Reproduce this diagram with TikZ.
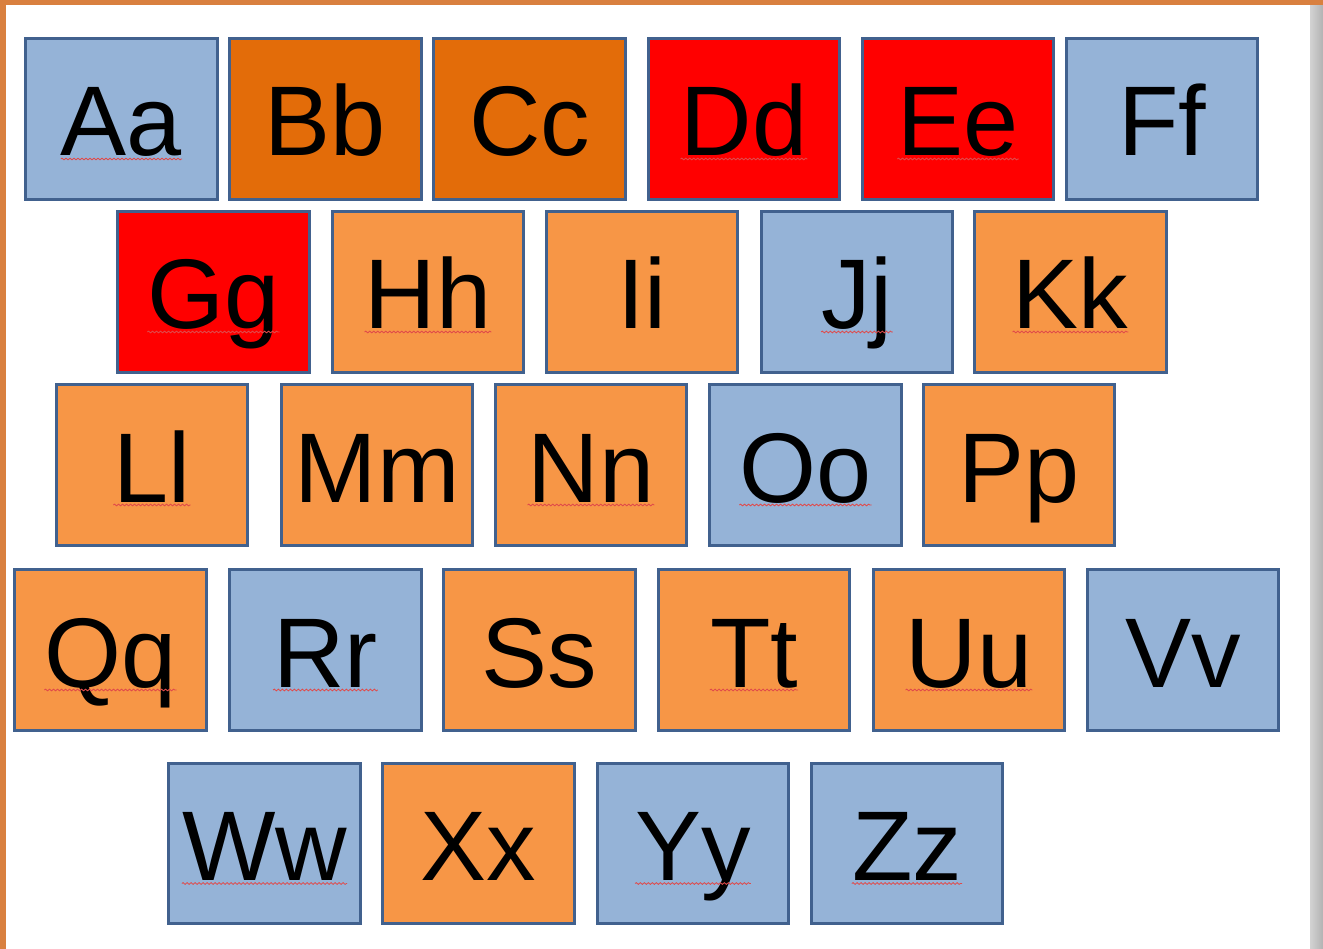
\documentclass[tikz,border=0pt]{standalone}
\usepackage{fontspec}
\setmainfont{Liberation Sans}
\usetikzlibrary{decorations.pathmorphing}
\definecolor{tileblue}{HTML}{95B3D7}
\definecolor{tiledark}{HTML}{E36C09}
\definecolor{tilered}{HTML}{FF0000}
\definecolor{tilelight}{HTML}{F79646}
\definecolor{tileedge}{HTML}{41618E}
\definecolor{woodorange}{HTML}{D9803F}
\definecolor{spellred}{HTML}{E04A4A}
\tikzstyle{tile}=[rectangle, draw=tileedge, line width=3pt, minimum width=191.5pt, minimum height=160.5pt, inner sep=0pt]
\tikzstyle{blue tile}=[tile, fill=tileblue]
\tikzstyle{dark tile}=[tile, fill=tiledark]
\tikzstyle{red tile}=[tile, fill=tilered]
\tikzstyle{light tile}=[tile, fill=tilelight]
\tikzstyle{word}=[inner sep=0pt, anchor=base, yshift=-37pt, font=\fontsize{99pt}{99pt}\selectfont]
\tikzstyle{squiggle}=[draw=spellred, line width=0.8pt, decorate, decoration={snake, amplitude=0.9pt, segment length=4pt}]

\begin{document}
\begin{tikzpicture}[x=1pt, y=-1pt]
\useasboundingbox (0,0) rectangle (1323,949);
\fill[white] (0,0) rectangle (1323,949);
\shade[left color=gray!35, right color=gray!60] (1310,0) rectangle (1323,949);
\fill[woodorange] (0,0) rectangle (6,949);
\fill[woodorange] (0,0) rectangle (1323,5);

% row 1
\node[blue tile]  (aa) at (121.5, 119) {};
\node[dark tile]  (bb) at (325.5, 119) {};
\node[dark tile]  (cc) at (529.5, 119) {};
\node[red tile]   (dd) at (744, 119) {};
\node[red tile]   (ee) at (958, 119) {};
\node[blue tile]  (ff) at (1162, 119) {};

% row 2
\node[red tile]   (gg) at (213.5, 292) {};
\node[light tile] (hh) at (428, 292) {};
\node[light tile] (ii) at (642, 292) {};
\node[blue tile]  (jj) at (857, 292) {};
\node[light tile] (kk) at (1070.5, 292) {};

% row 3
\node[light tile] (ll) at (152, 465) {};
\node[light tile] (mm) at (377, 465) {};
\node[light tile] (nn) at (591, 465) {};
\node[blue tile]  (oo) at (805.5, 465) {};
\node[light tile] (pp) at (1019, 465) {};

% row 4
\node[light tile] (qq) at (110.5, 650) {};
\node[blue tile]  (rr) at (325.5, 650) {};
\node[light tile] (ss) at (539.5, 650) {};
\node[light tile] (tt) at (754, 650) {};
\node[light tile] (uu) at (969, 650) {};
\node[blue tile]  (vv) at (1183, 650) {};

% row 5
\node[blue tile]  (ww) at (264.5, 843.5) {};
\node[light tile] (xx) at (478.5, 843.5) {};
\node[blue tile]  (yy) at (693, 843.5) {};
\node[blue tile]  (zz) at (907, 843.5) {};

% letters
\node[word] (aa text) at (aa.center) {Aa};
\node[word] (bb text) at (bb.center) {Bb};
\node[word] (cc text) at (cc.center) {Cc};
\node[word] (dd text) at (dd.center) {Dd};
\node[word] (ee text) at (ee.center) {Ee};
\node[word] (ff text) at (ff.center) {Ff};
\node[word] (gg text) at (gg.center) {Gg};
\node[word] (hh text) at (hh.center) {Hh};
\node[word] (ii text) at (ii.center) {Ii};
\node[word] (jj text) at (jj.center) {Jj};
\node[word] (kk text) at (kk.center) {Kk};
\node[word] (ll text) at (ll.center) {Ll};
\node[word] (mm text) at (mm.center) {Mm};
\node[word] (nn text) at (nn.center) {Nn};
\node[word] (oo text) at (oo.center) {Oo};
\node[word] (pp text) at (pp.center) {Pp};
\node[word] (qq text) at (qq.center) {Qq};
\node[word] (rr text) at (rr.center) {Rr};
\node[word] (ss text) at (ss.center) {Ss};
\node[word] (tt text) at (tt.center) {Tt};
\node[word] (uu text) at (uu.center) {Uu};
\node[word] (vv text) at (vv.center) {Vv};
\node[word] (ww text) at (ww.center) {Ww};
\node[word] (xx text) at (xx.center) {Xx};
\node[word] (yy text) at (yy.center) {Yy};
\node[word] (zz text) at (zz.center) {Zz};

% spelling marks
\draw[squiggle] ([yshift=-3pt]aa text.base west) -- ([yshift=-3pt]aa text.base east);
\draw[squiggle] ([yshift=-3pt]dd text.base west) -- ([yshift=-3pt]dd text.base east);
\draw[squiggle] ([yshift=-3pt]ee text.base west) -- ([yshift=-3pt]ee text.base east);
\draw[squiggle] ([yshift=-3pt]gg text.base west) -- ([yshift=-3pt]gg text.base east);
\draw[squiggle] ([yshift=-3pt]hh text.base west) -- ([yshift=-3pt]hh text.base east);
\draw[squiggle] ([yshift=-3pt]jj text.base west) -- ([yshift=-3pt]jj text.base east);
\draw[squiggle] ([yshift=-3pt]kk text.base west) -- ([yshift=-3pt]kk text.base east);
\draw[squiggle] ([yshift=-3pt]ll text.base west) -- ([yshift=-3pt]ll text.base east);
\draw[squiggle] ([yshift=-3pt]nn text.base west) -- ([yshift=-3pt]nn text.base east);
\draw[squiggle] ([yshift=-3pt]oo text.base west) -- ([yshift=-3pt]oo text.base east);
\draw[squiggle] ([yshift=-3pt]qq text.base west) -- ([yshift=-3pt]qq text.base east);
\draw[squiggle] ([yshift=-3pt]rr text.base west) -- ([yshift=-3pt]rr text.base east);
\draw[squiggle] ([yshift=-3pt]tt text.base west) -- ([yshift=-3pt]tt text.base east);
\draw[squiggle] ([yshift=-3pt]uu text.base west) -- ([yshift=-3pt]uu text.base east);
\draw[squiggle] ([yshift=-3pt]ww text.base west) -- ([yshift=-3pt]ww text.base east);
\draw[squiggle] ([yshift=-3pt]yy text.base west) -- ([yshift=-3pt]yy text.base east);
\draw[squiggle] ([yshift=-3pt]zz text.base west) -- ([yshift=-3pt]zz text.base east);
\end{tikzpicture}
\end{document}
